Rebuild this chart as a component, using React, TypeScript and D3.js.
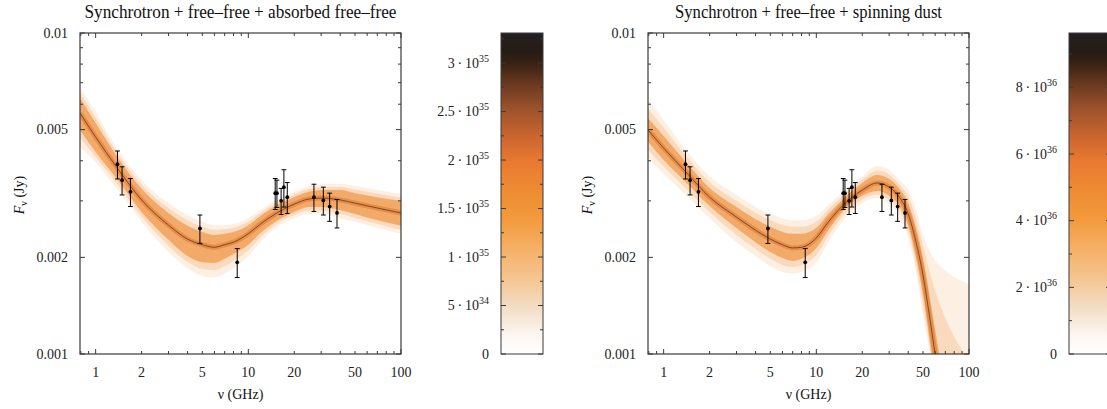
import React from 'react';
import * as d3 from 'd3';

// ---------- data ----------
const leftTitle = 'Synchrotron + free\u2013free + absorbed free\u2013free';
const rightTitle = 'Synchrotron + free\u2013free + spinning dust';

const xTickLabels = [1, 2, 5, 10, 20, 50, 100];
const yTickLabels = [0.001, 0.002, 0.005, 0.01];
const yTickText = ['0.001', '0.002', '0.005', '0.01'];

// observed points
const obsFreq = [1.39, 1.49, 1.69, 4.82, 8.46, 15.0, 15.4, 16.4, 17.1, 18.0, 26.9, 31.0, 34.1, 38.1];
const obsFlux = [0.0039, 0.00348, 0.0032, 0.00246, 0.00193, 0.00317, 0.00317, 0.003, 0.00331, 0.00308, 0.00308, 0.00301, 0.00288, 0.00275];
const obsErr = [0.00039, 0.00035, 0.00032, 0.00025, 0.0002, 0.00035, 0.00031, 0.00028, 0.00044, 0.00034, 0.0003, 0.0003, 0.00029, 0.00028];

// left model band (synchrotron + free-free + absorbed free-free)
const leftFreq = [0.79, 1, 1.4, 2, 3, 4, 5, 6, 7, 8, 10, 12, 15, 20, 25, 30, 40, 50, 70, 100];
const leftMedian = [0.00563, 0.00474, 0.00377, 0.00302, 0.00252, 0.00228, 0.00219, 0.00215, 0.00219, 0.00223, 0.00237, 0.00254, 0.00273, 0.00293, 0.00304, 0.00306, 0.00302, 0.00295, 0.00285, 0.00275];
const leftInnerHi = [0.00627, 0.00524, 0.00408, 0.00327, 0.00275, 0.00251, 0.0024, 0.00235, 0.00237, 0.0024, 0.00252, 0.00269, 0.00289, 0.00308, 0.0032, 0.00324, 0.00324, 0.00317, 0.00308, 0.003];
const leftInnerLo = [0.00499, 0.00426, 0.00348, 0.00277, 0.00227, 0.00202, 0.00193, 0.00192, 0.00198, 0.00205, 0.00219, 0.00238, 0.00258, 0.00277, 0.00287, 0.00287, 0.00281, 0.00273, 0.00261, 0.00251];
const leftOuterHi = [0.00679, 0.00567, 0.00432, 0.00348, 0.00295, 0.00271, 0.00258, 0.00252, 0.00252, 0.00254, 0.00265, 0.00281, 0.003, 0.0032, 0.00334, 0.00339, 0.00339, 0.00334, 0.00324, 0.00315];
const leftOuterLo = [0.00442, 0.00396, 0.00324, 0.00258, 0.00208, 0.00185, 0.00175, 0.00173, 0.00178, 0.00185, 0.00202, 0.00223, 0.00247, 0.00265, 0.00273, 0.00273, 0.00265, 0.00258, 0.00247, 0.00237];

// right model band (synchrotron + free-free + spinning dust)
const rightFreq = [0.79, 1, 1.4, 2, 3, 4, 5, 6, 7, 8, 10, 12, 15, 20, 25, 30, 35, 40, 45, 50, 55, 60, 70, 100];
const rightMedian = [0.00499, 0.00438, 0.00369, 0.00308, 0.00267, 0.00243, 0.00228, 0.00219, 0.00214, 0.00215, 0.0023, 0.00258, 0.00291, 0.00324, 0.00341, 0.00331, 0.00308, 0.00273, 0.00223, 0.00176, 0.00132, 0.001, 0.00062, 0.0002];
const rightInnerHi = [0.00543, 0.00478, 0.00396, 0.00329, 0.00287, 0.00263, 0.00249, 0.0024, 0.00237, 0.00237, 0.00247, 0.00273, 0.00304, 0.00341, 0.00361, 0.00351, 0.00327, 0.00295, 0.00247, 0.00199, 0.00153, 0.00119, 0.00077, 0.00025];
const rightInnerLo = [0.00458, 0.00402, 0.00343, 0.00289, 0.00247, 0.00223, 0.00208, 0.00199, 0.00195, 0.00198, 0.00214, 0.00243, 0.00279, 0.00311, 0.00322, 0.00311, 0.00289, 0.00251, 0.00199, 0.00153, 0.00112, 0.00083, 0.00048, 0.00012];
const rightOuterHi = [0.00619, 0.00536, 0.00432, 0.00358, 0.00313, 0.00287, 0.00273, 0.00265, 0.00261, 0.00261, 0.00269, 0.00291, 0.0032, 0.00358, 0.00385, 0.00374, 0.00348, 0.00324, 0.00281, 0.00235, 0.0021, 0.00196, 0.00182, 0.00165];
const rightOuterLo = [0.00408, 0.00364, 0.00313, 0.00265, 0.00223, 0.00202, 0.00188, 0.0018, 0.00178, 0.0018, 0.00193, 0.00223, 0.00261, 0.00295, 0.00306, 0.00293, 0.00271, 0.0023, 0.0018, 0.00132, 0.00103, 0.00075, 0.00046, 0.0001];

// colour bars
const leftCbMax = 3.31e35;
const leftCbTicks = [0, 5e34, 1e35, 1.5e35, 2e35, 2.5e35, 3e35];
const leftCbMinorStep = 2.5e34;
const rightCbMax = 9.63e36;
const rightCbTicks = [0, 2e36, 4e36, 6e36, 8e36];
const rightCbMinorStep = 1e36;

const cmapStops: [number, string][] = [
  [0, '#ffffff'],
  [0.06, '#fcf6f0'],
  [0.15, '#f3dcc2'],
  [0.24, '#f5c48e'],
  [0.32, '#f6b26a'],
  [0.42, '#f29a3c'],
  [0.5, '#ef8d33'],
  [0.6, '#e97931'],
  [0.68, '#c9652e'],
  [0.76, '#9e532c'],
  [0.84, '#6a3a20'],
  [0.9, '#3c2315'],
  [0.94, '#261b15'],
  [1, '#231f20'],
];

// ---------- layout ----------
const W = 1107;
const H = 409;
const plotTop = 33;
const plotBottom = 354;
const plotW = 321;
const FONT = "'Liberation Serif', 'Times New Roman', Times, serif";
const AXIS = '#3a3a3a';

function minorTicks(lo: number, hi: number) {
  const out: number[] = [];
  for (let e = -4; e <= 3; e++) {
    for (let m = 1; m <= 9; m++) {
      const v = m * Math.pow(10, e);
      if (v >= lo * 0.9999 && v <= hi * 1.0001) out.push(+v.toPrecision(6));
    }
  }
  return out;
}

interface PanelProps {
  id: string;
  left: number;
  title: string;
  titleLen: number;
  freq: number[];
  median: number[];
  innerHi: number[];
  innerLo: number[];
  outerHi: number[];
  outerLo: number[];
}

function Panel(p: PanelProps) {
  const x = d3.scaleLog().domain([0.79, 100]).range([p.left, p.left + plotW]);
  const y = d3.scaleLog().domain([0.001, 0.01]).range([plotBottom, plotTop]);
  const idx = p.freq.map((_, i) => i);
  const band = (lo: number[], hi: number[]) =>
    d3
      .area<number>()
      .x((i) => x(p.freq[i]))
      .y0((i) => y(lo[i]))
      .y1((i) => y(hi[i]))
      .curve(d3.curveMonotoneX)(idx) || '';
  const line = d3
    .line<number>()
    .x((i) => x(p.freq[i]))
    .y((i) => y(p.median[i]))
    .curve(d3.curveMonotoneX)(idx) || '';

  const xMinor = minorTicks(0.79, 100);
  const yMinor = minorTicks(0.001, 0.01);
  const cx = p.left + plotW / 2;

  return (
    <g>
      <defs>
        <clipPath id={`clip-${p.id}`}>
          <rect x={p.left} y={plotTop} width={plotW} height={plotBottom - plotTop} />
        </clipPath>
      </defs>
      <g clipPath={`url(#clip-${p.id})`}>
        <path d={band(p.outerLo, p.outerHi)} fill="#f4b06c" fillOpacity={0.2} />
        <path d={band(p.innerLo.map((v, i) => (v + p.outerLo[i]) / 2), p.innerHi.map((v, i) => (v + p.outerHi[i]) / 2))} fill="#f3a45a" fillOpacity={0.28} />
        <path d={band(p.innerLo, p.innerHi)} fill="#ef8a36" fillOpacity={0.62} />
        <path d={line} fill="none" stroke="#d86a24" strokeWidth={5} strokeOpacity={0.45} />
        <path d={line} fill="none" stroke="#3a1e10" strokeWidth={1} strokeOpacity={0.6} />
      </g>

      {/* error bars */}
      {obsFreq.map((f, i) => {
        const px = x(f);
        const yHi = y(obsFlux[i] + obsErr[i]);
        const yLo = y(obsFlux[i] - obsErr[i]);
        return (
          <g key={i} stroke="#000" strokeWidth={1}>
            <line x1={px} x2={px} y1={yHi} y2={yLo} />
            <line x1={px - 2.4} x2={px + 2.4} y1={yHi} y2={yHi} />
            <line x1={px - 2.4} x2={px + 2.4} y1={yLo} y2={yLo} />
            <circle cx={px} cy={y(obsFlux[i])} r={1.9} fill="#000" stroke="none" />
          </g>
        );
      })}

      {/* frame */}
      <rect x={p.left} y={plotTop} width={plotW} height={plotBottom - plotTop} fill="none" stroke={AXIS} strokeWidth={1.2} />
      {xMinor.map((v) => {
        const major = Math.abs(Math.log10(v) - Math.round(Math.log10(v))) < 1e-6;
        const len = major ? 5 : 3;
        const px = x(v);
        return (
          <g key={`xt${v}`} stroke={AXIS} strokeWidth={1}>
            <line x1={px} x2={px} y1={plotBottom} y2={plotBottom - len} />
            <line x1={px} x2={px} y1={plotTop} y2={plotTop + len} />
          </g>
        );
      })}
      {yMinor.map((v) => {
        const major = yTickLabels.some((t) => Math.abs(t - v) < 1e-9);
        const len = major ? 5 : 3;
        const py = y(v);
        return (
          <g key={`yt${v}`} stroke={AXIS} strokeWidth={1}>
            <line x1={p.left} x2={p.left + len} y1={py} y2={py} />
            <line x1={p.left + plotW} x2={p.left + plotW - len} y1={py} y2={py} />
          </g>
        );
      })}
      {xTickLabels.map((v) => (
        <text key={`xl${v}`} x={x(v)} y={377} textAnchor="middle" fontSize={14} fontFamily={FONT} fill="#222">
          {v}
        </text>
      ))}
      {yTickLabels.map((v, i) => (
        <text key={`yl${v}`} x={p.left - 12} y={y(v) + 4.5} textAnchor="end" fontSize={14} fontFamily={FONT} fill="#222">
          {yTickText[i]}
        </text>
      ))}
      <text x={cx} y={18} textAnchor="middle" fontSize={19} fontFamily={FONT} fill="#111" textLength={p.titleLen} lengthAdjust="spacingAndGlyphs">
        {p.title}
      </text>
      <text x={cx} y={399} textAnchor="middle" fontSize={14} fontFamily={FONT} fill="#111">
        {'\u03bd (GHz)'}
      </text>
      <text transform={`translate(${p.left - 56},195) rotate(-90)`} textAnchor="middle" fontSize={14} fontFamily={FONT} fill="#111">
        <tspan fontStyle="italic">F</tspan>
        <tspan fontSize={10} dy={3}>{'\u03bd'}</tspan>
        <tspan dy={-3}>{' (Jy)'}</tspan>
      </text>
    </g>
  );
}

interface CbProps {
  id: string;
  left: number;
  max: number;
  ticks: number[];
  minorStep: number;
}

function Colorbar(c: CbProps) {
  const w = 42;
  const s = d3.scaleLinear().domain([0, c.max]).range([plotBottom, plotTop]);
  const minors = d3.range(0, c.max, c.minorStep);
  return (
    <g>
      <defs>
        <linearGradient id={`grad-${c.id}`} x1="0" y1="1" x2="0" y2="0">
          {cmapStops.map(([o, col]) => (
            <stop key={o} offset={o} stopColor={col} />
          ))}
        </linearGradient>
      </defs>
      <rect x={c.left} y={plotTop} width={w} height={plotBottom - plotTop} fill={`url(#grad-${c.id})`} stroke={AXIS} strokeWidth={1} />
      {minors.map((v) => {
        const major = c.ticks.some((t) => Math.abs(t - v) < c.minorStep * 1e-3);
        const len = major ? 5 : 3;
        return (
          <g key={v} stroke={AXIS} strokeWidth={1}>
            <line x1={c.left} x2={c.left + len} y1={s(v)} y2={s(v)} />
            <line x1={c.left + w} x2={c.left + w - len} y1={s(v)} y2={s(v)} />
          </g>
        );
      })}
      {c.ticks.map((v) => {
        if (v === 0)
          return (
            <text key={v} x={c.left - 12} y={s(v) + 4.5} textAnchor="end" fontSize={14} fontFamily={FONT} fill="#222">
              0
            </text>
          );
        const e = Math.floor(Math.log10(v) + 1e-9);
        const m = +(v / Math.pow(10, e)).toFixed(2);
        return (
          <text key={v} x={c.left - 12} y={s(v) + 4.5} textAnchor="end" fontSize={14} fontFamily={FONT} fill="#222">
            <tspan>{`${m}\u2009\u00b7\u200910`}</tspan>
            <tspan fontSize={10} dy={-6}>{e}</tspan>
          </text>
        );
      })}
    </g>
  );
}

export default function App() {
  return (
    <svg width={W} height={H} style={{ position: 'absolute', left: 0, top: 0, background: '#fff' }}>
      <rect x={0} y={0} width={W} height={H} fill="#fff" />
      <Panel
        id="l"
        left={80}
        title={leftTitle}
        titleLen={312}
        freq={leftFreq}
        median={leftMedian}
        innerHi={leftInnerHi}
        innerLo={leftInnerLo}
        outerHi={leftOuterHi}
        outerLo={leftOuterLo}
      />
      <Colorbar id="l" left={501} max={leftCbMax} ticks={leftCbTicks} minorStep={leftCbMinorStep} />
      <Panel
        id="r"
        left={648}
        title={rightTitle}
        titleLen={267}
        freq={rightFreq}
        median={rightMedian}
        innerHi={rightInnerHi}
        innerLo={rightInnerLo}
        outerHi={rightOuterHi}
        outerLo={rightOuterLo}
      />
      <Colorbar id="r" left={1069} max={rightCbMax} ticks={rightCbTicks} minorStep={rightCbMinorStep} />
    </svg>
  );
}
